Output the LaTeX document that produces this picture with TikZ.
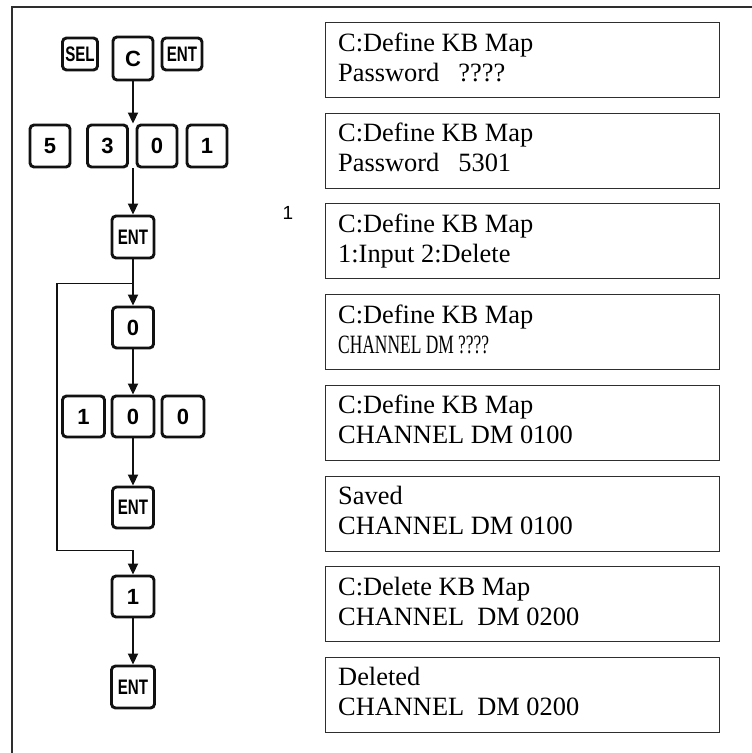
\documentclass[tikz,border=0pt]{standalone}
\usepackage{fontspec}
\setmainfont{Liberation Serif}
\newfontfamily\keyfont{Liberation Sans}
\usetikzlibrary{arrows.meta,positioning,calc}
\definecolor{Ink}{HTML}{111111}
\definecolor{Rule}{HTML}{2E2E2E}
\newcommand{\narrow}[1]{\scalebox{0.72}[1]{#1}}

\tikzset{
  key/.style={draw=Ink,line width=2.9pt,rounded corners=4pt,minimum width=40pt,minimum height=42pt,
    inner sep=0pt,font=\keyfont\bfseries\fontsize{22}{22}\selectfont},
  wordkey/.style={key,minimum height=32pt,font=\keyfont\bfseries\fontsize{21}{21}\selectfont},
  screen/.style={draw=Rule,line width=0.9pt,minimum width=394pt,minimum height=75pt,inner sep=0pt,anchor=north west},
  lcd/.style={anchor=base west,inner sep=0pt,font=\fontsize{26.4}{26.4}\selectfont},
  flow/.style={Ink,line width=1.8pt,-{Triangle[length=11pt,width=10pt]}},
  wire/.style={Ink,line width=1.8pt},
}

\begin{document}
\begin{tikzpicture}[x=1pt,y=-1pt]
  \useasboundingbox (0,0) rectangle (752,753);
  \draw[Rule,line width=1.2pt] (12,753) -- (12,7) -- (752,7);

  % key presses
  \node[wordkey,minimum width=35pt] (sel) at (80,54) {\narrow{SEL}};
  \node[key,minimum height=43pt] (c) at (133,58.5) {C};
  \node[wordkey] (ent0) at (182,54) {\narrow{ENT}};
  \foreach \x/\d in {50/5,107.5/3,157/0,207/1}
    \node[key] (pw\d) at (\x,146) {\d};
  \node[key,minimum width=42pt,font=\keyfont\bfseries\fontsize{21}{21}\selectfont] (ent1) at (133,237) {\narrow{ENT}};
  \node[key,minimum width=41pt,minimum height=41pt] (zero) at (133,327.5) {0};
  \foreach \x/\d/\n in {83.5/1/a,133/0/b,183/0/c}
    \node[key,minimum width=42pt,minimum height=41pt] (ch\n) at (\x,416.5) {\d};
  \node[key,minimum width=41pt,minimum height=41pt,font=\keyfont\bfseries\fontsize{21}{21}\selectfont] (ent2) at (133,507.5) {\narrow{ENT}};
  \node[key,minimum width=42pt,minimum height=41pt] (one) at (133,596.5) {1};
  \node[key,minimum width=43pt,minimum height=42pt,font=\keyfont\bfseries\fontsize{21}{21}\selectfont] (ent3) at (133,687) {\narrow{ENT}};

  % arrows
  \draw[flow] (c.south) -- (c.south |- pw3.north);
  \draw[flow] (c.south |- pw3.south) -- (ent1.north);
  \coordinate (split) at ($(ent1.south)+(0,24)$);
  \draw[wire] (ent1.south) -- (split);
  \draw[flow] (split) -- (zero.north);
  \draw[flow] (split) -- ++(-76,0) |- ($(one.north)+(0,-24)$) -- (one.north);
  \draw[flow] (zero.south) -- (chb.north);
  \draw[flow] (chb.south) -- (ent2.north);
  \draw[flow] (one.south) -- (ent3.north);

  % display screens
  \foreach \a/\b [count=\i from 0] in {
      C:Define KB Map/Password\hspace{19pt}????,
      C:Define KB Map/Password\hspace{19pt}5301,
      C:Define KB Map/1:Input 2:Delete,
      C:Define KB Map/{\scalebox{0.66}[1]{CHANNEL DM ????}},
      C:Define KB Map/CHANNEL DM 0100,
      Saved/CHANNEL DM 0100,
      C:Delete KB Map/CHANNEL\hspace{13pt}DM 0200,
      Deleted/CHANNEL\hspace{13pt}DM 0200} {
    \node[screen] (scr\i) at (325,22+90.7*\i) {};
    \node[lcd] at ($(scr\i.north west)+(13,29)$) {\a};
    \node[lcd] at ($(scr\i.north west)+(13,59)$) {\b};
  }
  \node[font=\keyfont\fontsize{19}{19}\selectfont,inner sep=0pt] (mark) at (288,213) {1};
\end{tikzpicture}
\end{document}
